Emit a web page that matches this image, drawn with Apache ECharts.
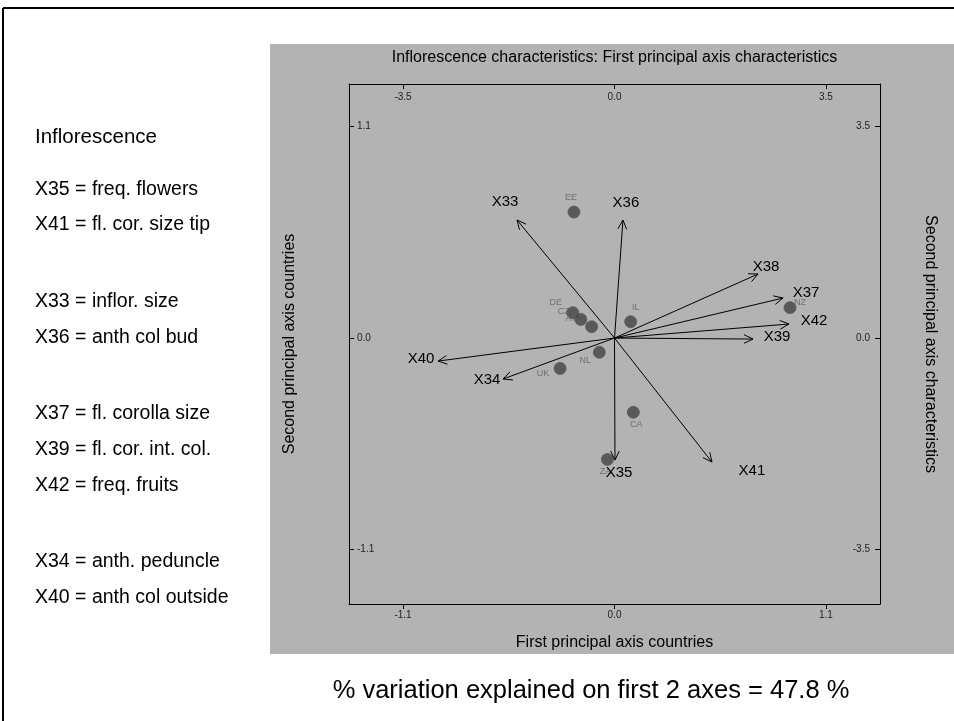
<!DOCTYPE html>
<html><head><meta charset="utf-8">
<script src="https://cdn.jsdelivr.net/npm/echarts@6/dist/echarts.min.js"></script>
<style>html,body{margin:0;padding:0;background:#fff}#c{width:954px;height:721px}</style>
</head><body><div id="c"></div>
<script>
// ---- data ----
const countryNames = ['EE','DE','CZ','AT','IL','NL','UK','CA','ZA','NZ'];
const countryX = [-0.211,-0.217,-0.175,-0.119,0.084,-0.079,-0.283,0.098,-0.037,0.913];
const countryY = [0.655,0.132,0.097,0.059,0.085,-0.074,-0.158,-0.386,-0.631,0.158];
const charNames = ['X33','X36','X38','X37','X42','X39','X41','X35','X40','X34'];
const charX = [-1.613,0.14,2.375,2.79,2.888,2.292,1.613,0.008,-2.921,-1.845];
const charY = [1.953,1.953,1.059,0.662,0.232,-0.017,-2.052,-2.019,-0.381,-0.678];
const countryTicks = [-1.1, 0, 1.1];
const charTicks = [-3.5, 0, 3.5];
const legendTitle = 'Inflorescence';
const legendItems = ['X35 = freq. flowers','X41 = fl. cor. size tip','X33 = inflor. size','X36 = anth col bud',
  'X37 = fl. corolla size','X39 = fl. cor. int. col.','X42 = freq. fruits','X34 = anth. peduncle','X40 = anth col outside'];
const footnote = '% variation explained on first 2 axes = 47.8 %';

// ---- styling / layout ----
const FONT = '"Liberation Sans", Arial, sans-serif';
const ratio = 3.5 / 1.1;
const cxMin = -1.381, cxMax = 1.381, cyMin = -1.383, cyMax = 1.321;
const countryLabelOffsets = [[-3,-15],[-17,-10],[-17,-8],[-21,-8],[5,-14],[-14,8],[-17,5],[3,12],[-2,12],[10,-5]];
const charLabelOffsets = [[-12,-18],[3,-17],[8,-7],[23,-5],[25,-3],[24,-2],[40,9],[4,13],[-17,-2],[-16,1]];
const legendY = [190,225,302,338,414,450,486,562,598];

const chart = echarts.init(document.getElementById('c'));
const fmt = v => (Math.abs(v) < 1e-9 ? 0 : v).toFixed(1);
const axisBase = {
  type: 'value', splitLine: {show: false},
  axisLine: {show: true, onZero: false, lineStyle: {color: '#000', width: 1}},
  nameTextStyle: {fontFamily: FONT, fontSize: 16, color: '#000'},
  nameLocation: 'middle'
};
const countryData = countryNames.map((n, i) => ({
  name: n, value: [countryX[i], countryY[i]],
  label: {offset: countryLabelOffsets[i]}
}));
const charData = charNames.map((n, i) => [charX[i], charY[i]]);

chart.setOption({
  animation: false,
  backgroundColor: '#fff',
  grid: {left: 349, top: 84, right: 74, bottom: 117, containLabel: false},
  xAxis: [
    Object.assign({}, axisBase, {
      position: 'bottom', min: cxMin, max: cxMax,
      name: 'First principal axis countries', nameGap: 31,
      axisTick: {show: true, inside: false, length: 5, customValues: countryTicks, lineStyle: {color: '#000'}},
      axisLabel: {show: true, inside: false, margin: 6, customValues: countryTicks, formatter: fmt,
        fontFamily: FONT, fontSize: 10, color: '#222'}
    }),
    Object.assign({}, axisBase, {
      position: 'top', min: cxMin * ratio, max: cxMax * ratio,
      name: 'Inflorescence characteristics: First principal axis characteristics', nameGap: 18,
      axisTick: {show: true, inside: true, length: 5, customValues: charTicks, lineStyle: {color: '#000'}},
      axisLabel: {show: true, inside: true, margin: 8, customValues: charTicks, formatter: fmt,
        fontFamily: FONT, fontSize: 10, color: '#222'}
    })
  ],
  yAxis: [
    Object.assign({}, axisBase, {
      position: 'left', min: cyMin, max: cyMax,
      name: 'Second principal axis countries', nameGap: 51, nameRotate: 90,
      axisTick: {show: true, inside: true, length: 5, customValues: countryTicks, lineStyle: {color: '#000'}},
      axisLabel: {show: true, inside: true, margin: 8, customValues: countryTicks, formatter: fmt,
        fontFamily: FONT, fontSize: 10, color: '#222'}
    }),
    Object.assign({}, axisBase, {
      position: 'right', min: cyMin * ratio, max: cyMax * ratio,
      name: 'Second principal axis characteristics', nameGap: 42, nameRotate: -90,
      axisTick: {show: true, inside: true, length: 5, customValues: charTicks, lineStyle: {color: '#000'}},
      axisLabel: {show: true, inside: true, margin: 10, customValues: charTicks, formatter: fmt,
        fontFamily: FONT, fontSize: 10, color: '#222'}
    })
  ],
  series: [
    {
      type: 'scatter', xAxisIndex: 0, yAxisIndex: 0, z: 2,
      symbol: 'circle', symbolSize: 12,
      itemStyle: {color: '#424242', borderColor: '#5a5a5a', borderWidth: 1},
      label: {show: true, position: 'inside', formatter: '{b}', fontFamily: FONT, fontSize: 9, color: '#5e5e5e'},
      data: countryData
    },
    {
      type: 'custom', xAxisIndex: 1, yAxisIndex: 1, z: 5, clip: false,
      data: charData,
      renderItem: function (params, api) {
        const o = api.coord([0, 0]);
        const t = api.coord([api.value(0), api.value(1)]);
        const ang = Math.atan2(t[1] - o[1], t[0] - o[0]);
        const L = 10, a = Math.PI / 7;
        const p1 = [t[0] - L * Math.cos(ang - a), t[1] - L * Math.sin(ang - a)];
        const p2 = [t[0] - L * Math.cos(ang + a), t[1] - L * Math.sin(ang + a)];
        const off = charLabelOffsets[params.dataIndex];
        return {type: 'group', children: [
          {type: 'line', shape: {x1: o[0], y1: o[1], x2: t[0], y2: t[1]}, style: {stroke: '#000', lineWidth: 1}},
          {type: 'polyline', shape: {points: [p1, t, p2]}, style: {stroke: '#000', fill: null, lineWidth: 1}},
          {type: 'text', x: t[0] + off[0], y: t[1] + off[1],
            style: {text: charNames[params.dataIndex], align: 'center', verticalAlign: 'middle',
              font: '15px ' + FONT, fill: '#000'}}
        ]};
      }
    }
  ],
  graphic: [
    {type: 'rect', z: -100, shape: {x: 270, y: 44, width: 684, height: 610}, style: {fill: '#b3b3b3'}},
    {type: 'line', z: 10, shape: {x1: 3, y1: 8, x2: 954, y2: 8}, style: {stroke: '#000', lineWidth: 2}},
    {type: 'line', z: 10, shape: {x1: 3, y1: 8, x2: 3, y2: 721}, style: {stroke: '#000', lineWidth: 2}},
    {type: 'text', x: 35, y: 137, style: {text: legendTitle, font: '20.5px ' + FONT, fill: '#000', verticalAlign: 'middle'}},
    ...legendItems.map((s, i) => ({type: 'text', x: 35, y: legendY[i],
      style: {text: s, font: '19.5px ' + FONT, fill: '#000', verticalAlign: 'middle'}})),
    {type: 'text', x: 591, y: 691, style: {text: footnote, font: '25.5px ' + FONT, fill: '#000', align: 'center', verticalAlign: 'middle'}}
  ]
});
</script>
</body></html>
